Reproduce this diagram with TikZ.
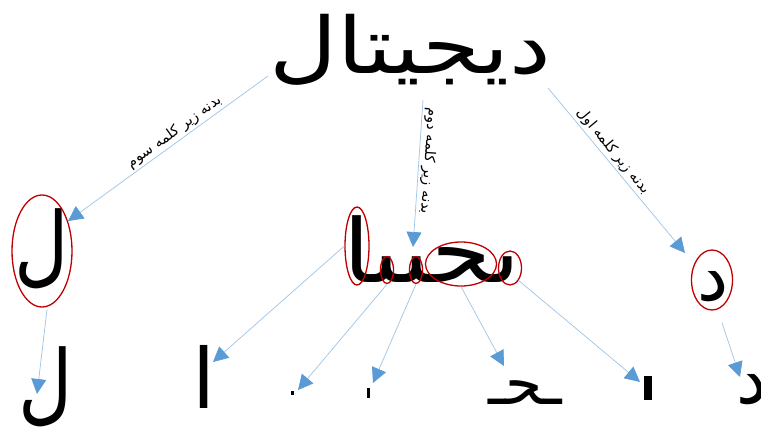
\documentclass[tikz,border=0pt]{standalone}
\usepackage{fontspec}
\usetikzlibrary{arrows.meta,shapes.geometric}
\newfontfamily\arabicfont[Script=Arabic]{DejaVu Sans}
\TeXXeTstate=1
\definecolor{ovalred}{HTML}{C00000}
\definecolor{linkblue}{HTML}{9DC3E6}
\definecolor{tipblue}{HTML}{5B9BD5}

\begin{document}
\begin{tikzpicture}[
				x=1pt, y=-1pt,
				oval/.style = {draw=ovalred, ellipse, line width=1.3pt, inner sep=0pt},
				glyph/.style = {inner sep=0pt, anchor=base},
				tag/.style = {font=\arabicfont\fontsize{14.5}{16}\selectfont, inner sep=2pt},
				piece/.style = {fill=black, inner sep=0pt},
				arrow/.style = {draw=linkblue, line width=0.7pt, -{Triangle[length=15pt, width=15pt, color=tipblue, fill=tipblue]}}
				]
				\useasboundingbox (0,0) rectangle (761,431);
				
				% whole word
				\node[glyph, font=\arabicfont\fontsize{78}{90}\selectfont] (word) at (410,73) {\scalebox{1.2}[1]{\beginR دیجیتال\endR}};
				
				% sub words
				\node[glyph, font=\arabicfont\fontsize{88}{90}\selectfont] (lam) at (42,275) {\scalebox{0.85}[1]{\beginR ل\endR}};
				\node[glyph, font=\arabicfont\fontsize{88}{90}\selectfont] (stem) at (432,282) {\scalebox{1.1}[1]{\beginR ٮحٮٮا\endR}};
				\node[glyph, font=\arabicfont\fontsize{70}{90}\selectfont] (dal) at (713,300) {\beginR د\endR};
				
				\node[oval, minimum width=60, minimum height=112] (lamOval) at (42,251) {};
				\node[oval, minimum width=41, minimum height=60] (dalOval) at (712,280) {};
				\node[oval, minimum width=24, minimum height=78] (alefOval) at (357,246) {};
				\node[oval, minimum width=13, minimum height=27] (toothA) at (387,270) {};
				\node[oval, minimum width=13, minimum height=27] (toothB) at (416,270) {};
				\node[oval, minimum width=71, minimum height=44] (haOval) at (461,264) {};
				\node[oval, minimum width=23, minimum height=34] (toothC) at (510,268) {};
				
				% letters
				\node[glyph, font=\arabicfont\fontsize{88}{90}\selectfont] (lam2) at (46,413) {\scalebox{0.85}[1]{\beginR ل\endR}};
				\node[glyph, font=\arabicfont\fontsize{83}{90}\selectfont] (alef2) at (204,408) {\beginR ا\endR};
				\node[piece, minimum width=3, minimum height=4] (dot2) at (292,393) {};
				\node[piece, minimum width=3, minimum height=10] (dot3) at (368,393) {};
				\node[glyph, font=\arabicfont\fontsize{60}{90}\selectfont] (ha2) at (525,404) {\beginR ـحـ\endR};
				\node[piece, minimum width=8, minimum height=24] (dot4) at (648,388) {};
				\node[glyph, font=\arabicfont\fontsize{70}{90}\selectfont] (dal2) at (752,403) {\beginR د\endR};
				
				\draw[arrow] ([shift={(-142,3)}]word.base) -- node[tag, above, sloped, pos=0.44] {\beginR بدنه زیر کلمه سوم\endR} (lamOval.49);
				\draw[arrow] ([shift={(13,27)}]word.base) -- node[tag, anchor=south, rotate=-94, pos=0.41] {\beginR بدنه زیر کلمه دوم\endR} ([shift={(-3,-23)}]toothB.center);
				\draw[arrow] ([shift={(138,15)}]word.base) -- node[tag, above, sloped, pos=0.42] {\beginR بدنه زیر کلمه اول\endR} ([shift={(-27,-27)}]dalOval.center);
				
				\draw[arrow] ([shift={(5,2)}]lamOval.south) -- ([shift={(-9,-19)}]lam2.base);
				\draw[arrow] (alefOval.west) -- ([shift={(9,-46)}]alef2.base);
				\draw[arrow] (toothA.south) -- ([shift={(6,-3)}]dot2.center);
				\draw[arrow] (toothB.south) -- ([shift={(5,-10)}]dot3.center);
				\draw[arrow] (haOval.south) -- ([shift={(-21,-38)}]ha2.base);
				\draw[arrow] (toothC.south east) -- ([shift={(-8,-6)}]dot4.center);
				\draw[arrow] ([shift={(10,12)}]dalOval.south) -- ([shift={(-12,-26)}]dal2.base);
			\end{tikzpicture}
\end{document}
